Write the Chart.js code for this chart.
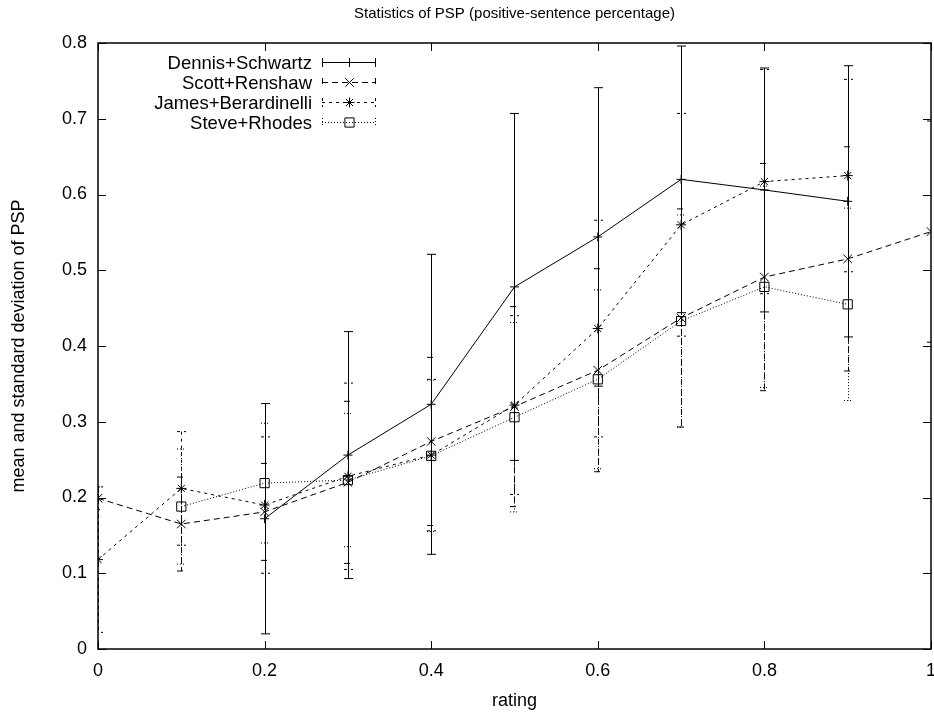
<!DOCTYPE html>
<html>
<head>
<meta charset="utf-8">
<title>Statistics of PSP</title>
<script src="https://cdn.jsdelivr.net/npm/chart.js@4/dist/chart.umd.min.js"></script>
<style>
  html, body { margin: 0; padding: 0; background: #fff; overflow: hidden; }
  /* wider than the window: the x scale keeps 16px right padding, and the last label gets cut like the original */
  #wrap { width: 947px; height: 713px; position: relative; }
</style>
</head>
<body>
<div id="wrap"><canvas id="chart"></canvas></div>
<script>
(function () {
  'use strict';

  // ratings on the x axis
  const ratings = [0, 0.1, 0.2, 0.3, 0.4, 0.5, 0.6, 0.7, 0.8, 0.9, 1.0];

  // mean PSP and its standard deviation per reviewer (null = no point)
  const dennisMean = [null, null, 0.172, 0.256, 0.323, 0.478, 0.544, 0.620, 0.606, 0.591, null];
  const dennisStd  = [null, null, 0.152, 0.163, 0.198, 0.229, 0.197, 0.176, 0.161, 0.179, null];
  const scottMean  = [0.199, 0.165, 0.181, 0.220, 0.274, 0.320, 0.368, 0.437, 0.491, 0.515, 0.551];
  const scottStd   = [0.015, 0.062, 0.064, 0.107, 0.111, 0.132, 0.134, 0.144, 0.150, 0.148, 0.146];
  const jamesMean  = [0.118, 0.212, 0.190, 0.228, 0.256, 0.322, 0.423, 0.560, 0.617, 0.625, null];
  const jamesStd   = [0.096, 0.075, 0.090, 0.123, 0.100, 0.118, 0.143, 0.147, 0.148, 0.127, null];
  const steveMean  = [null, 0.188, 0.219, 0.223, 0.255, 0.306, 0.356, 0.433, 0.478, 0.455, null];
  const steveStd   = [null, 0.076, 0.079, 0.088, 0.100, 0.125, 0.118, 0.140, 0.133, 0.127, null];

  const seriesLabels = ['Dennis+Schwartz', 'Scott+Renshaw', 'James+Berardinelli', 'Steve+Rhodes'];

  const xTickLabels = ['0', '0.2', '0.4', '0.6', '0.8', '1'];
  const yTickLabels = ['0', '0.1', '0.2', '0.3', '0.4', '0.5', '0.6', '0.7', '0.8'];

  const chartTitle = 'Statistics of PSP (positive-sentence percentage)';

  const FONT = '"Liberation Sans", Arial, Helvetica, sans-serif';

  function toPoints(mean, std) {
    const pts = [];
    ratings.forEach((x, i) => {
      if (mean[i] === null) return;
      pts.push({ x: x, y: mean[i], err: std[i] });
    });
    return pts;
  }

  function makeDataset(label, mean, std, dash, style, radius) {
    return {
      label: label,
      data: toPoints(mean, std),
      borderColor: '#000',
      borderWidth: 1,
      borderDash: dash,
      fill: false,
      tension: 0,
      pointStyle: style,
      pointRadius: radius,
      pointHoverRadius: radius,
      pointBorderColor: '#000',
      pointBackgroundColor: 'rgba(0,0,0,0)',
      pointBorderWidth: 1,
    };
  }

  const datasets = [
    makeDataset(seriesLabels[0], dennisMean, dennisStd, [], 'cross', 4.5),
    makeDataset(seriesLabels[1], scottMean, scottStd, [6, 4], 'crossRot', 6),
    makeDataset(seriesLabels[2], jamesMean, jamesStd, [3, 4], 'star', 5),
    makeDataset(seriesLabels[3], steveMean, steveStd, [1, 2], 'rect', 6.5),
  ];

  const CAP = 4.5;

  function drawMarker(ctx, style, x, y, r) {
    ctx.beginPath();
    if (style === 'cross' || style === 'star') {
      ctx.moveTo(x - r, y); ctx.lineTo(x + r, y);
      ctx.moveTo(x, y - r); ctx.lineTo(x, y + r);
    }
    if (style === 'crossRot' || style === 'star') {
      const d = r * Math.SQRT1_2;
      ctx.moveTo(x - d, y - d); ctx.lineTo(x + d, y + d);
      ctx.moveTo(x - d, y + d); ctx.lineTo(x + d, y - d);
    }
    if (style === 'rect') {
      const s = r * Math.SQRT1_2;
      ctx.rect(x - s, y - s, 2 * s, 2 * s);
    }
    ctx.stroke();
  }

  // vertical error bars with caps, same dash as the series line
  const errorBars = {
    id: 'errorBars',
    beforeDatasetsDraw(chart) {
      const ctx = chart.ctx;
      const xs = chart.scales.x;
      const ys = chart.scales.y;
      const area = chart.chartArea;
      ctx.save();
      ctx.beginPath();
      ctx.rect(area.left, area.top, area.right - area.left, area.bottom - area.top);
      ctx.clip();
      ctx.strokeStyle = '#000';
      ctx.lineWidth = 1;
      chart.data.datasets.forEach((ds) => {
        ctx.setLineDash(ds.borderDash || []);
        ds.data.forEach((p) => {
          if (p.err === null || p.err === undefined) return;
          const px = Math.round(xs.getPixelForValue(p.x)) + 0.5;
          const top = ys.getPixelForValue(p.y + p.err);
          const bot = ys.getPixelForValue(p.y - p.err);
          ctx.beginPath();
          ctx.moveTo(px, top); ctx.lineTo(px, bot);
          ctx.moveTo(px - CAP, top); ctx.lineTo(px + CAP, top);
          ctx.moveTo(px - CAP, bot); ctx.lineTo(px + CAP, bot);
          ctx.stroke();
        });
      });
      ctx.restore();
    }
  };

  // gnuplot style frame with inward ticks on all sides, title over the plot
  const frame = {
    id: 'frame',
    afterDatasetsDraw(chart) {
      const ctx = chart.ctx;
      const a = chart.chartArea;
      const xs = chart.scales.x;
      const ys = chart.scales.y;
      const L = 8;
      ctx.save();
      ctx.strokeStyle = '#000';
      ctx.lineWidth = 1;
      ctx.setLineDash([]);
      ctx.beginPath();
      xs.ticks.forEach((t) => {
        const px = Math.round(xs.getPixelForValue(t.value)) + 0.5;
        ctx.moveTo(px, a.bottom); ctx.lineTo(px, a.bottom - L);
        ctx.moveTo(px, a.top); ctx.lineTo(px, a.top + L);
      });
      ys.ticks.forEach((t) => {
        const py = Math.round(ys.getPixelForValue(t.value)) + 0.5;
        ctx.moveTo(a.left, py); ctx.lineTo(a.left + L, py);
        ctx.moveTo(a.right, py); ctx.lineTo(a.right - L, py);
      });
      ctx.stroke();
      ctx.lineWidth = 1.5;
      ctx.strokeRect(a.left, a.top, a.right - a.left, a.bottom - a.top);

      ctx.font = '15px ' + FONT;
      ctx.fillStyle = '#000';
      ctx.textAlign = 'center';
      ctx.textBaseline = 'middle';
      ctx.fillText(chartTitle, (a.left + a.right) / 2, 14);
      ctx.restore();
    }
  };

  // key in the top-left corner: right-aligned text, sample on the right
  const keyBox = {
    id: 'keyBox',
    afterDraw(chart) {
      const ctx = chart.ctx;
      const textRight = 312;
      const x0 = 322;
      const x1 = 376;
      ctx.save();
      ctx.font = '18.5px ' + FONT;
      ctx.fillStyle = '#000';
      ctx.strokeStyle = '#000';
      ctx.lineWidth = 1;
      ctx.textAlign = 'right';
      ctx.textBaseline = 'middle';
      chart.data.datasets.forEach((ds, i) => {
        const y = 62.5 + i * 20;
        ctx.setLineDash([]);
        ctx.fillText(ds.label, textRight, y + 1);
        ctx.setLineDash(ds.borderDash || []);
        ctx.beginPath();
        ctx.moveTo(x0, y); ctx.lineTo(x1, y);
        ctx.moveTo(x0 + 0.5, y - CAP); ctx.lineTo(x0 + 0.5, y + CAP);
        ctx.moveTo(x1 - 0.5, y - CAP); ctx.lineTo(x1 - 0.5, y + CAP);
        ctx.stroke();
        ctx.setLineDash([]);
        drawMarker(ctx, ds.pointStyle, (x0 + x1) / 2 + 0.5, y, ds.pointRadius);
      });
      ctx.restore();
    }
  };

  Chart.defaults.color = '#000';
  Chart.defaults.font.family = FONT;

  new Chart(document.getElementById('chart'), {
    type: 'line',
    data: { datasets: datasets },
    options: {
      responsive: true,
      maintainAspectRatio: false,
      animation: false,
      events: [],
      layout: { padding: { left: 0, right: 0, top: 43, bottom: 0 } },
      plugins: {
        legend: { display: false },
        tooltip: { enabled: false },
        title: { display: false },
      },
      scales: {
        x: {
          type: 'linear',
          min: 0,
          max: 1,
          grid: { display: false, drawTicks: false },
          border: { display: false },
          ticks: {
            stepSize: 0.2,
            maxRotation: 0,
            padding: 11,
            font: { size: 18 },
            callback: (v, i) => xTickLabels[i],
          },
          title: {
            display: true,
            text: 'rating',
            font: { size: 18 },
            padding: { top: 0, bottom: 1 },
          },
          afterFit: (scale) => {
            scale.height = 64;
          },
        },
        y: {
          type: 'linear',
          min: 0,
          max: 0.8,
          grid: { display: false, drawTicks: false },
          border: { display: false },
          ticks: {
            stepSize: 0.1,
            padding: 11,
            font: { size: 18 },
            callback: (v, i) => yTickLabels[i],
          },
          title: {
            display: true,
            text: 'mean and standard deviation of PSP',
            font: { size: 18 },
            padding: { top: 8, bottom: 0 },
          },
          afterFit: (scale) => {
            scale.width = 98;
          },
        },
      },
    },
    plugins: [errorBars, frame, keyBox],
  });
})();
</script>
</body>
</html>
